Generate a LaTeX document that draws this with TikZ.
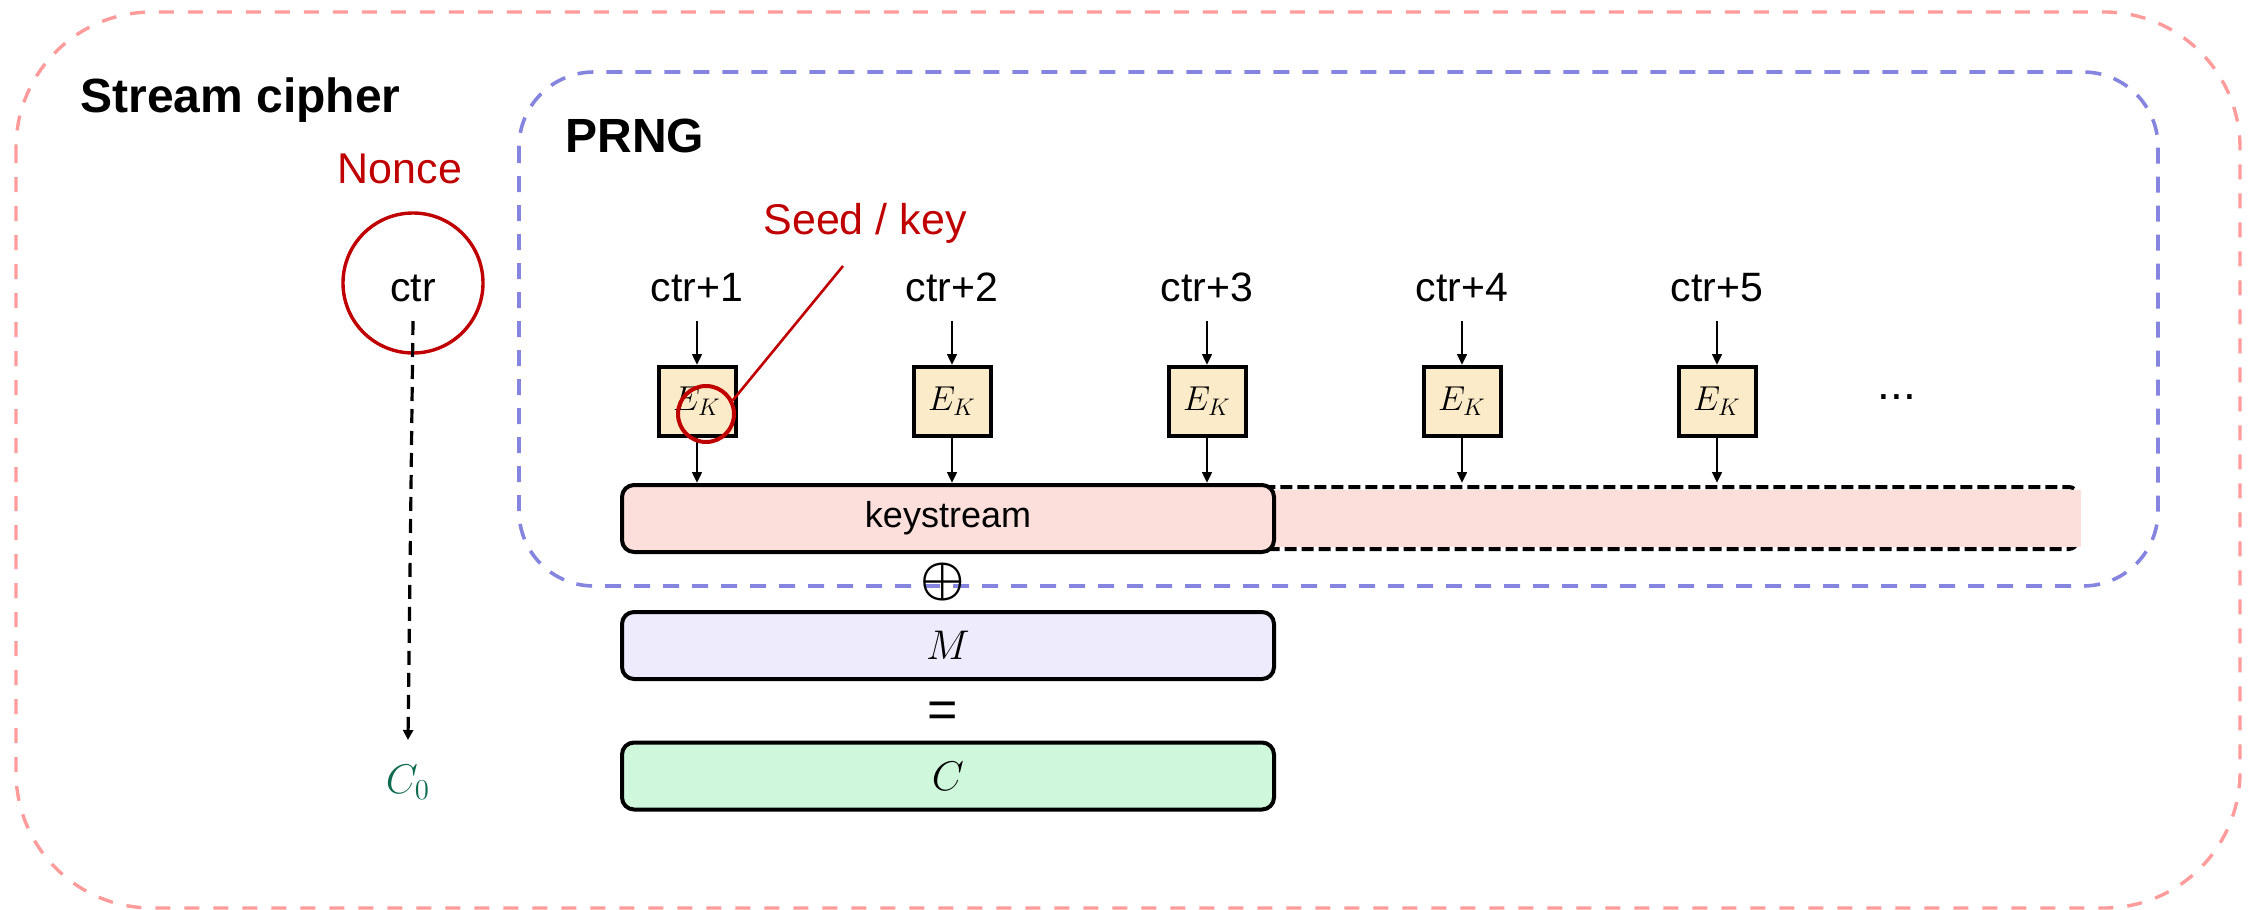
\documentclass[tikz,border=0pt]{standalone}
\usepackage{amsmath}
\usepackage{fontspec}
\setmainfont{Liberation Sans}
\usetikzlibrary{arrows.meta}

\definecolor{outerpink}{HTML}{FF9B9B}
\definecolor{prngblue}{HTML}{8585E0}
\definecolor{accentred}{HTML}{C00000}
\definecolor{cipherteal}{HTML}{0E6B4F}
\definecolor{ekfill}{HTML}{FCEBC8}
\definecolor{ksfill}{HTML}{FCDFDA}
\definecolor{msgfill}{HTML}{EEEBFC}
\definecolor{ctfill}{HTML}{CFF7DC}

\newcommand{\setfs}[1]{\fontsize{#1}{#1}\selectfont}

\begin{document}
\begin{tikzpicture}[x=0.5pt,y=-0.5pt,
  arr/.style={line width=1.3pt,-{Triangle[length=5.5pt,width=4.8pt]}},
  ekbox/.style={draw,line width=2pt,fill=ekfill,minimum width=38.5pt,
    minimum height=34.5pt,inner sep=0pt,font=\setfs{17.5}},
  bar/.style={draw,line width=2pt,rounded corners=6pt,minimum width=326pt,
    minimum height=33.5pt,inner sep=0pt},
  ctrlabel/.style={anchor=base,inner sep=0pt,font=\setfs{20.5}},
  redlabel/.style={anchor=base,inner sep=0pt,text=accentred,font=\setfs{21.5}},
  heading/.style={anchor=base west,inner sep=0pt,font=\setfs{24}\bfseries}]

\useasboundingbox (0,0) rectangle (2254,910);

% group outlines
\draw[outerpink,line width=1.7pt,dash pattern=on 7.5pt off 7pt,
  rounded corners=68pt] (16,12) rectangle (2240,908);
\draw[prngblue,line width=1.8pt,dash pattern=on 8pt off 6.5pt,
  rounded corners=37.5pt] (519,72) rectangle (2158,586);

\node[heading] (sc) at (80,112) {Stream cipher};
\node[heading] (prng) at (565,152) {PRNG};

% nonce / initial counter
\node[redlabel] (nonce) at (400,183) {Nonce};
\node[draw=accentred,line width=1.7pt,circle,minimum size=70pt,
  inner sep=0pt] (nonceC) at (413,283) {};
\node[ctrlabel] (ctr0) at (413,301) {ctr};
\node[anchor=base,inner sep=0pt,text=cipherteal,font=\setfs{20}] (c0)
  at (408,793) {$C_0$};
\draw[line width=1.6pt,dash pattern=on 7pt off 4pt,
  -{Triangle[length=5pt,width=5pt]}]
  ([yshift=-10pt]ctr0.base) -- ([yshift=26.5pt]c0.base);

% keystream continuation
\draw[line width=2pt,dash pattern=on 6pt off 2.5pt,rounded corners=4pt]
  (1250,487) rectangle (2077,549);
\fill[ksfill] (1262,490) rectangle (2081,547);

% keystream, message, ciphertext
\node[bar,fill=ksfill,font=\setfs{18}] (ks) at (948,518.5) {keystream};
\node[inner sep=0pt,font=\setfs{24}] (xor) at (943,582) {$\boldsymbol{\oplus}$};
\node[bar,fill=msgfill,font=\setfs{20}] (msg) at (948,645.5) {$M$};
\node[inner sep=0pt,font=\setfs{26}] (eq) at (943,715) {=};
\node[bar,fill=ctfill,font=\setfs{20}] (ct) at (948,776) {$C$};

% counter blocks
\foreach \i in {1,...,5} {
  \pgfmathsetmacro\xx{697+255*(\i-1)}
  \node[ctrlabel] (ctr\i) at (\xx,301) {ctr+\i};
  \node[ekbox] (ek\i) at (\xx,401.5) {$E_K$};
  \draw[arr] ([yshift=-10pt]ctr\i.base) -- (ek\i.north);
  \draw[arr] (ek\i.south) -- (ek\i.south |- ks.north);
}
\node[inner sep=0pt,font=\setfs{23}] (dots) at (1897,397) {...};

% seed / key callout
\node[redlabel] (seed) at (865,234) {Seed / key};
\node[draw=accentred,line width=2pt,circle,minimum size=28pt,
  inner sep=0pt] (seedC) at (706,414) {};
\coordinate (seedtip) at (843,266);
\draw[accentred,line width=1.3pt] (seedtip) -- (seedC.27);

\end{tikzpicture}
\end{document}
